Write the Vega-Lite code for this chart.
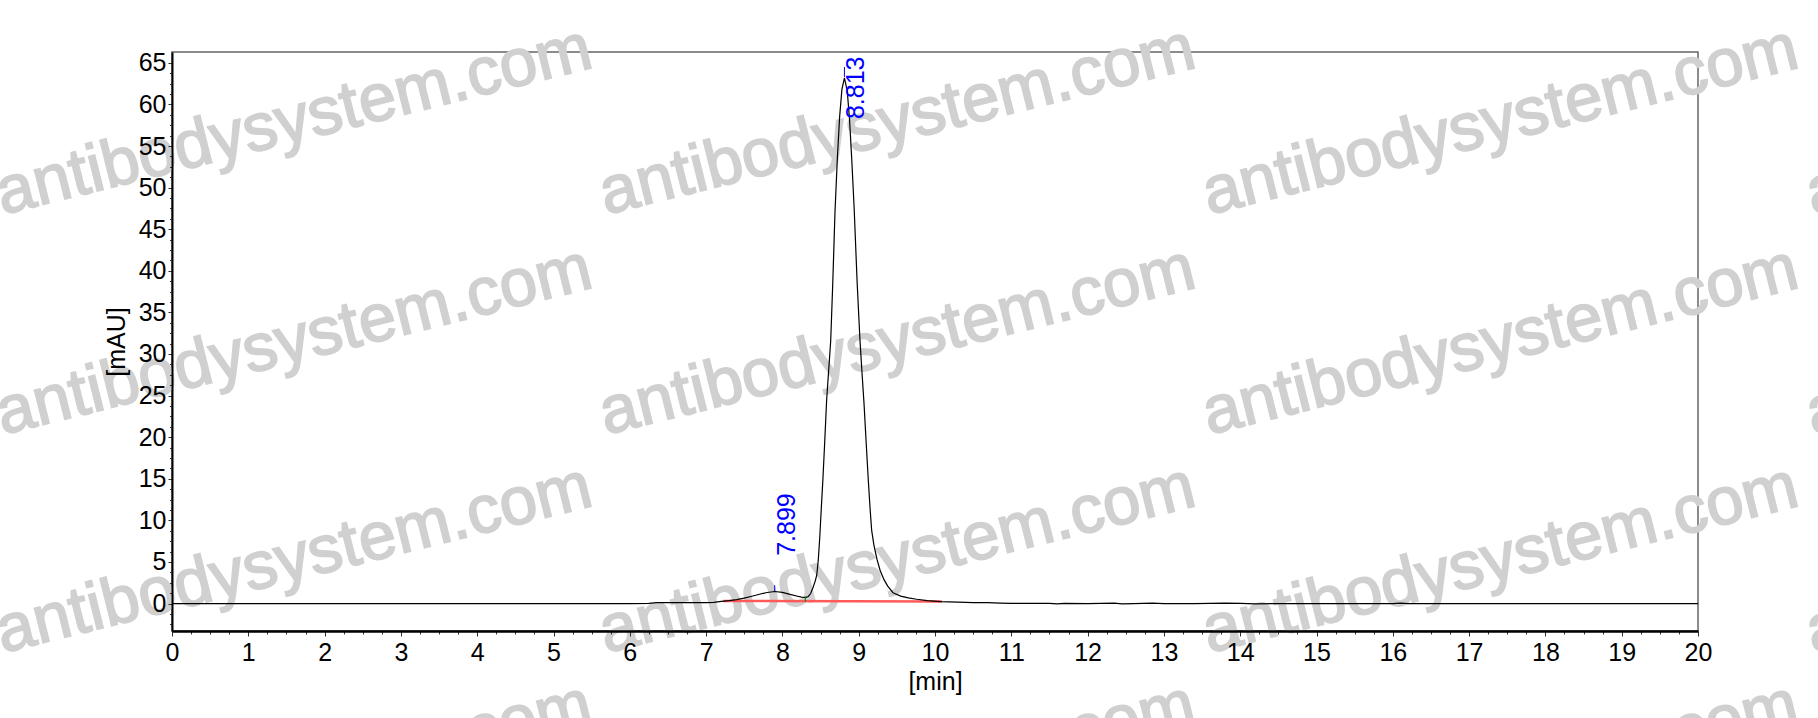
{
  "$schema": "https://vega.github.io/schema/vega-lite/v6.json",
  "width": 1526,
  "height": 579,
  "autosize": {"type": "none"},
  "padding": {"left": 172, "top": 52, "right": 120, "bottom": 87},
  "background": "white",
  "config": {
    "font": "Liberation Sans",
    "view": {"stroke": "#666666", "strokeWidth": 1.5}
  },
  "datasets": {
    "signal": [
      {"t": 0, "v": 0}, {"t": 1, "v": 0}, {"t": 2, "v": 0}, {"t": 3, "v": 0},
      {"t": 4, "v": 0}, {"t": 5, "v": 0}, {"t": 6, "v": 0}, {"t": 6.25, "v": 0.02},
      {"t": 6.35, "v": 0.12}, {"t": 6.5, "v": 0.1}, {"t": 6.7, "v": 0.1}, {"t": 6.9, "v": 0.12},
      {"t": 7.0, "v": 0.1}, {"t": 7.1, "v": 0.15}, {"t": 7.2, "v": 0.25}, {"t": 7.3, "v": 0.35},
      {"t": 7.4, "v": 0.48}, {"t": 7.5, "v": 0.65}, {"t": 7.6, "v": 0.88}, {"t": 7.7, "v": 1.12},
      {"t": 7.8, "v": 1.33}, {"t": 7.9, "v": 1.45}, {"t": 8.0, "v": 1.35}, {"t": 8.1, "v": 1.1},
      {"t": 8.2, "v": 0.88}, {"t": 8.25, "v": 0.78}, {"t": 8.3, "v": 0.72}, {"t": 8.34, "v": 0.85},
      {"t": 8.37, "v": 1.2}, {"t": 8.4, "v": 1.9}, {"t": 8.43, "v": 2.7}, {"t": 8.45, "v": 3.4},
      {"t": 8.47, "v": 5.2}, {"t": 8.49, "v": 8.0}, {"t": 8.51, "v": 11.5}, {"t": 8.53, "v": 14.8},
      {"t": 8.555, "v": 19.5}, {"t": 8.58, "v": 24.5}, {"t": 8.61, "v": 28.5}, {"t": 8.633, "v": 31.6},
      {"t": 8.66, "v": 38.5}, {"t": 8.689, "v": 47.0}, {"t": 8.72, "v": 53.5}, {"t": 8.75, "v": 58.5},
      {"t": 8.78, "v": 61.8}, {"t": 8.813, "v": 63.2}, {"t": 8.85, "v": 61.6}, {"t": 8.88, "v": 58.2},
      {"t": 8.91, "v": 53.2}, {"t": 8.94, "v": 47.6}, {"t": 8.98, "v": 38.5}, {"t": 9.017, "v": 31.6},
      {"t": 9.045, "v": 27.5}, {"t": 9.07, "v": 24.0}, {"t": 9.1, "v": 19.0}, {"t": 9.126, "v": 14.8},
      {"t": 9.15, "v": 11.3}, {"t": 9.17, "v": 8.8}, {"t": 9.2, "v": 7.0}, {"t": 9.24, "v": 5.3},
      {"t": 9.28, "v": 4.0}, {"t": 9.33, "v": 2.9}, {"t": 9.38, "v": 2.1}, {"t": 9.45, "v": 1.3},
      {"t": 9.55, "v": 0.9}, {"t": 9.65, "v": 0.68}, {"t": 9.76, "v": 0.52}, {"t": 9.9, "v": 0.36},
      {"t": 10.07, "v": 0.24}, {"t": 10.3, "v": 0.16}, {"t": 10.5, "v": 0.12}, {"t": 10.7, "v": 0.1},
      {"t": 10.85, "v": 0.06}, {"t": 11.0, "v": 0.03}, {"t": 11.3, "v": 0.02}, {"t": 11.5, "v": 0.03},
      {"t": 11.6, "v": -0.05}, {"t": 11.7, "v": 0.02}, {"t": 12.0, "v": 0.0}, {"t": 12.35, "v": 0.05},
      {"t": 12.45, "v": -0.05}, {"t": 12.6, "v": 0.0}, {"t": 12.85, "v": 0.06}, {"t": 13.0, "v": 0.0},
      {"t": 13.4, "v": 0.0}, {"t": 13.8, "v": 0.05}, {"t": 14.0, "v": 0.03}, {"t": 14.2, "v": -0.03},
      {"t": 14.5, "v": 0.0}, {"t": 15, "v": 0}, {"t": 16, "v": 0}, {"t": 16.1, "v": 0.06},
      {"t": 16.2, "v": 0}, {"t": 17, "v": 0}, {"t": 18, "v": 0}, {"t": 19, "v": 0}, {"t": 20, "v": 0}
    ],
    "baseline": [
      {"t": 7.225, "v": 0.32},
      {"t": 10.09, "v": 0.24}
    ],
    "apexTicks": [
      {"t": 7.899, "v": 1.5, "v2": 2.2},
      {"t": 8.813, "v": 63.3, "v2": 64.5}
    ],
    "valleyTicks": [
      {"t": 8.3, "v": 0.2, "v2": 0.85}
    ],
    "peakLabels": [
      {"t": 7.899, "v": 5.74, "label": "7.899"},
      {"t": 8.813, "v": 58.24, "label": "8.813"}
    ],
    "watermark": [
      {"t": -2.22, "v": 46.75, "w": "antibodysystem.com"},
      {"t": 5.686, "v": 46.75, "w": "antibodysystem.com"},
      {"t": 13.59, "v": 46.75, "w": "antibodysystem.com"},
      {"t": 21.5, "v": 46.75, "w": "antibodysystem.com"},
      {"t": -2.22, "v": 20.29, "w": "antibodysystem.com"},
      {"t": 5.686, "v": 20.29, "w": "antibodysystem.com"},
      {"t": 13.59, "v": 20.29, "w": "antibodysystem.com"},
      {"t": 21.5, "v": 20.29, "w": "antibodysystem.com"},
      {"t": -2.22, "v": -5.93, "w": "antibodysystem.com"},
      {"t": 5.686, "v": -5.93, "w": "antibodysystem.com"},
      {"t": 13.59, "v": -5.93, "w": "antibodysystem.com"},
      {"t": 21.5, "v": -5.93, "w": "antibodysystem.com"},
      {"t": -2.22, "v": -32.15, "w": "antibodysystem.com"},
      {"t": 5.686, "v": -32.15, "w": "antibodysystem.com"},
      {"t": 13.59, "v": -32.15, "w": "antibodysystem.com"},
      {"t": 21.5, "v": -32.15, "w": "antibodysystem.com"}
    ]
  },
  "encoding": {
    "x": {
      "field": "t",
      "type": "quantitative",
      "scale": {"domain": [0, 20], "nice": false, "zero": false},
      "axis": {
        "title": "[min]",
        "values": [0,0.25,0.5,0.75,1,1.25,1.5,1.75,2,2.25,2.5,2.75,3,3.25,3.5,3.75,4,4.25,4.5,4.75,5,5.25,5.5,5.75,6,6.25,6.5,6.75,7,7.25,7.5,7.75,8,8.25,8.5,8.75,9,9.25,9.5,9.75,10,10.25,10.5,10.75,11,11.25,11.5,11.75,12,12.25,12.5,12.75,13,13.25,13.5,13.75,14,14.25,14.5,14.75,15,15.25,15.5,15.75,16,16.25,16.5,16.75,17,17.25,17.5,17.75,18,18.25,18.5,18.75,19,19.25,19.5,19.75,20],
        "labelExpr": "datum.value % 1 === 0 ? format(datum.value, 'd') : ''",
        "labelFontSize": 25,
        "labelColor": "black",
        "labelPadding": 4,
        "labelOverlap": false,
        "labelFlush": false,
        "tickSize": {"condition": {"test": "datum.value % 1 === 0", "value": 5}, "value": 3},
        "tickColor": "#333333",
        "domainColor": "black",
        "domainWidth": 2.5,
        "grid": false,
        "zindex": 1,
        "titleFontSize": 25,
        "titleFontWeight": "normal",
        "titleColor": "black",
        "titlePadding": 4
      }
    },
    "y": {
      "field": "v",
      "type": "quantitative",
      "scale": {"domain": [-3.3, 66.3], "nice": false, "zero": false},
      "axis": {
        "title": "[mAU]",
        "values": [-2.5,-1.25,0,1.25,2.5,3.75,5,6.25,7.5,8.75,10,11.25,12.5,13.75,15,16.25,17.5,18.75,20,21.25,22.5,23.75,25,26.25,27.5,28.75,30,31.25,32.5,33.75,35,36.25,37.5,38.75,40,41.25,42.5,43.75,45,46.25,47.5,48.75,50,51.25,52.5,53.75,55,56.25,57.5,58.75,60,61.25,62.5,63.75,65],
        "labelExpr": "datum.value % 5 === 0 ? format(datum.value, 'd') : ''",
        "labelFontSize": 25,
        "labelColor": "black",
        "labelPadding": 2,
        "labelOverlap": false,
        "labelFlush": false,
        "tickSize": {"condition": {"test": "datum.value % 5 === 0", "value": 4}, "value": 2.5},
        "tickColor": "#333333",
        "domainColor": "black",
        "domainWidth": 2,
        "grid": false,
        "zindex": 1,
        "titleFontSize": 25,
        "titleFontWeight": "normal",
        "titleColor": "black",
        "titlePadding": 9
      }
    }
  },
  "layer": [
    {
      "data": {"name": "watermark"},
      "mark": {
        "type": "text",
        "angle": 346,
        "align": "left",
        "baseline": "alphabetic",
        "fontSize": 67,
        "color": "#d0d0d0",
        "stroke": "#d0d0d0",
        "strokeWidth": 1.8
      },
      "encoding": {"text": {"field": "w"}}
    },
    {
      "data": {"name": "baseline"},
      "mark": {"type": "line", "color": "#ff5a5a", "strokeWidth": 2.5}
    },
    {
      "data": {"name": "signal"},
      "mark": {"type": "line", "color": "black", "strokeWidth": 1.2}
    },
    {
      "data": {"name": "apexTicks"},
      "mark": {"type": "rule", "color": "blue", "strokeWidth": 1},
      "encoding": {"y2": {"field": "v2"}}
    },
    {
      "data": {"name": "valleyTicks"},
      "mark": {"type": "rule", "color": "green", "strokeWidth": 1},
      "encoding": {"y2": {"field": "v2"}}
    },
    {
      "data": {"name": "peakLabels"},
      "mark": {
        "type": "text",
        "angle": 270,
        "align": "left",
        "baseline": "top",
        "fontSize": 25,
        "color": "blue"
      },
      "encoding": {"text": {"field": "label"}}
    }
  ]
}
